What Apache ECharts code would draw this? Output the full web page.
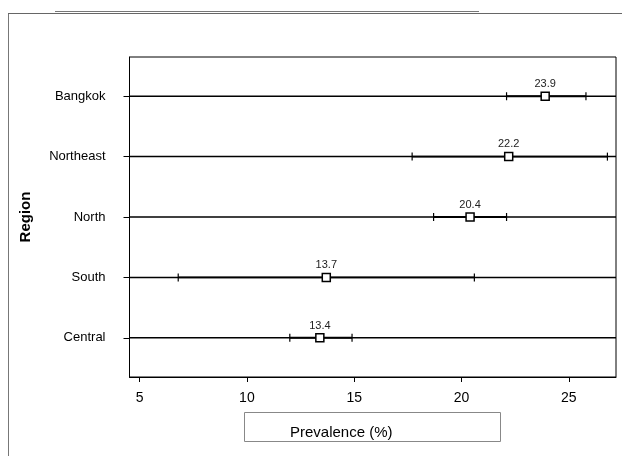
<!DOCTYPE html>
<html>
<head>
<meta charset="utf-8">
<script src="https://cdn.jsdelivr.net/npm/echarts@6/dist/echarts.min.js"></script>
<style>
  html, body { margin: 0; padding: 0; background: #fff; }
  #chart { width: 622px; height: 456px; }
</style>
</head>
<body>
<div id="chart"></div>
<script>
// regions from bottom to top
const regions = ["Central", "South", "North", "Northeast", "Bangkok"];
const prevalence = [13.4, 13.7, 20.4, 22.2, 23.9];
const lower = [12.0, 6.8, 18.7, 17.7, 22.1];
const upper = [14.9, 20.6, 22.1, 26.8, 25.8];
const xTicks = [5, 10, 15, 20, 25];

const rowPos = regions.map((r, i) => i + 1);

const font = "Liberation Sans, Arial, sans-serif";

const option = {
  animation: false,
  backgroundColor: "#fff",
  grid: {
    left: 129.5, top: 57, right: 6, bottom: 79,
    show: true, borderColor: "#000", borderWidth: 1
  },
  xAxis: {
    type: "value",
    min: 4.53, max: 27.2,
    axisLine: { lineStyle: { color: "#000" } },
    axisTick: { customValues: xTicks, length: 5, lineStyle: { color: "#000" } },
    axisLabel: {
      customValues: xTicks, color: "#000", fontSize: 14, fontFamily: font, margin: 14
    },
    splitLine: { show: false }
  },
  yAxis: {
    type: "value",
    min: 0.35, max: 5.65,
    name: "Region",
    nameLocation: "middle",
    nameGap: 96,
    nameTextStyle: { fontSize: 15, fontWeight: "bold", color: "#000", fontFamily: font },
    axisLine: { show: true, lineStyle: { color: "#000" } },
    axisTick: { show: true, customValues: rowPos, length: 6, lineStyle: { color: "#000" } },
    axisLabel: {
      customValues: rowPos, color: "#000", fontSize: 13, fontFamily: font, margin: 24,
      formatter: (v) => regions[Math.round(v) - 1]
    },
    splitLine: { show: false }
  },
  graphic: [
    { type: "line", shape: { x1: 8.5, y1: 13.5, x2: 8.5, y2: 456 }, style: { stroke: "#777", lineWidth: 1 } },
    { type: "line", shape: { x1: 8, y1: 13.5, x2: 622, y2: 13.5 }, style: { stroke: "#666", lineWidth: 1 } },
    { type: "line", shape: { x1: 55, y1: 11.5, x2: 479, y2: 11.5 }, style: { stroke: "#777", lineWidth: 1 } },
    {
      type: "rect", shape: { x: 244.5, y: 412.5, width: 256, height: 29 },
      style: { fill: "#fff", stroke: "#888", lineWidth: 1 }
    },
    {
      type: "text", x: 290, y: 433,
      style: { text: "Prevalence (%)", font: "15px " + font, fill: "#000", textVerticalAlign: "middle" }
    }
  ],
  series: [
    {
      // full-width row line plus confidence interval with end ticks
      type: "custom",
      data: regions.map((r, i) => [lower[i], upper[i], rowPos[i]]),
      encode: { x: [0, 1], y: 2 },
      renderItem: (params, api) => {
        const cs = params.coordSys;
        const lo = api.coord([api.value(0), api.value(2)]);
        const hi = api.coord([api.value(1), api.value(2)]);
        const y = lo[1];
        return {
          type: "group",
          children: [
            { type: "line", shape: { x1: cs.x, y1: y, x2: cs.x + cs.width, y2: y }, style: { stroke: "#000", lineWidth: 1.5 } },
            { type: "line", shape: { x1: lo[0], y1: y, x2: hi[0], y2: y }, style: { stroke: "#000", lineWidth: 1.8 } },
            { type: "line", shape: { x1: lo[0], y1: y - 4, x2: lo[0], y2: y + 4 }, style: { stroke: "#000", lineWidth: 1.2 } },
            { type: "line", shape: { x1: hi[0], y1: y - 4, x2: hi[0], y2: y + 4 }, style: { stroke: "#000", lineWidth: 1.2 } }
          ]
        };
      }
    },
    {
      type: "scatter",
      data: prevalence.map((v, i) => [v, rowPos[i]]),
      symbol: "rect",
      symbolSize: 8,
      itemStyle: { color: "#fff", borderColor: "#000", borderWidth: 1.5, opacity: 1 },
      label: {
        show: true, position: "top", distance: 2,
        formatter: (p) => p.value[0].toFixed(1),
        fontSize: 11, fontFamily: font, color: "#222"
      },
      z: 5
    }
  ]
};

echarts.init(document.getElementById("chart")).setOption(option);
</script>
</body>
</html>
